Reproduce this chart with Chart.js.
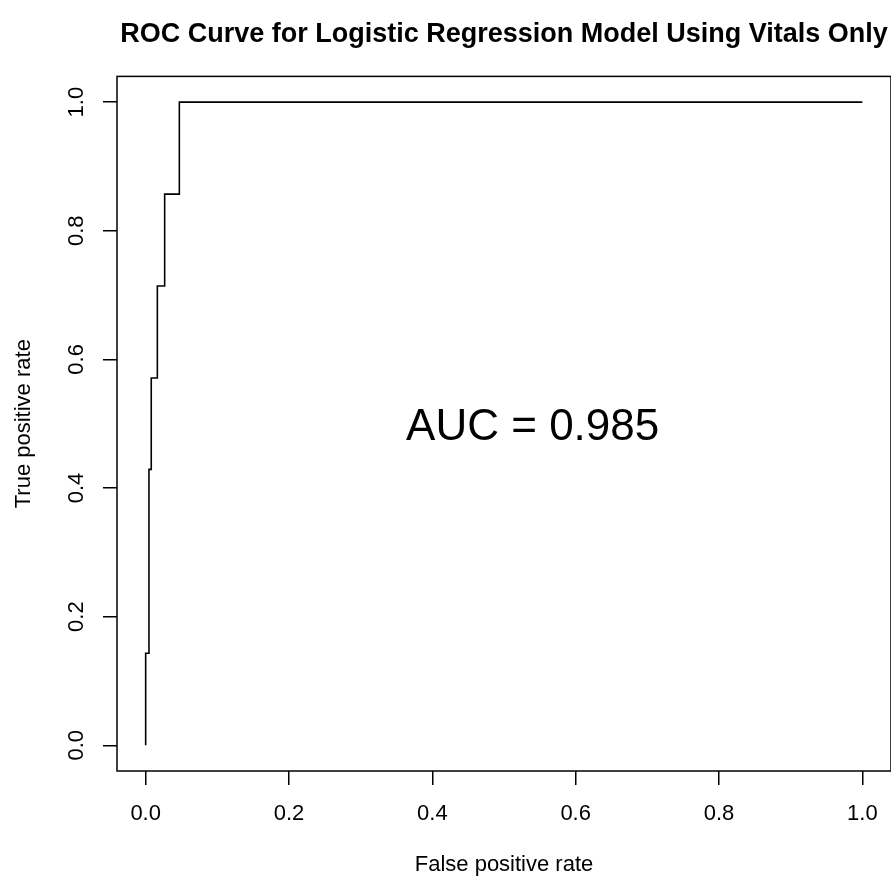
<!DOCTYPE html>
<html><head><meta charset="utf-8">
<script src="https://cdn.jsdelivr.net/npm/chart.js@4.4.1/dist/chart.umd.min.js"></script>
<style>html,body{margin:0;padding:0;background:#fff;}#wrap{width:891px;height:882px;}</style>
</head><body><div id="wrap"><canvas id="c" width="891" height="882"></canvas></div>
<script>
const chartTitle = "ROC Curve for Logistic Regression Model Using Vitals Only";
const xTitle = "False positive rate";
const yTitle = "True positive rate";
const aucLabel = "AUC = 0.985";
const aucPos = [0.54, 0.494];
// ROC vertices (false positive rate, true positive rate)
const fpr = [0, 0, 0.0046, 0.0078, 0.0163, 0.0265, 0.047, 1];
const tpr = [0, 0.143, 0.429, 0.571, 0.714, 0.857, 1, 1];
const tickValues = [0, 0.2, 0.4, 0.6, 0.8, 1.0];
const tickLabels = ["0.0", "0.2", "0.4", "0.6", "0.8", "1.0"];

const FONT = "'Liberation Sans', Arial, Helvetica, sans-serif";

const boxPlugin = {
  id: 'box',
  afterDraw(chart) {
    const {ctx, chartArea: a, scales} = chart;
    ctx.save();
    ctx.strokeStyle = '#000';
    ctx.lineWidth = 1.5;
    ctx.strokeRect(a.left, a.top, a.right - a.left, a.bottom - a.top);
    ctx.fillStyle = '#000';
    ctx.font = "44px " + FONT;
    ctx.textAlign = 'center';
    ctx.textBaseline = 'middle';
    ctx.fillText(aucLabel, scales.x.getPixelForValue(aucPos[0]), scales.y.getPixelForValue(aucPos[1]));
    ctx.restore();
  }
};

const points = fpr.map((v, i) => ({x: v, y: tpr[i]}));

new Chart(document.getElementById('c'), {
  type: 'scatter',
  data: { datasets: [{
    data: points, showLine: true, stepped: 'before',
    borderColor: '#000', borderWidth: 1.6, pointRadius: 0, fill: false
  }]},
  options: {
    responsive: false, animation: false, devicePixelRatio: 1,
    layout: { padding: { top: 0, left: 0, right: 0, bottom: 0 } },
    plugins: {
      legend: { display: false }, tooltip: { enabled: false },
      title: { display: true, text: chartTitle, fullSize: false, color: '#000',
        font: { family: FONT, size: 27, weight: 'bold' }, padding: { top: 18, bottom: 26 } }
    },
    scales: {
      x: {
        type: 'linear', min: -0.04, max: 1.04,
        afterBuildTicks: (ax) => { ax.ticks = tickValues.map(v => ({value: v})); },
        afterFit: (ax) => { ax.height = 111; ax.paddingLeft = 0; ax.paddingRight = 0; },
        grid: { drawOnChartArea: false, drawTicks: true, tickLength: 14, color: '#000', lineWidth: 1.5 },
        border: { display: false },
        ticks: { color: '#000', font: { family: FONT, size: 22 }, padding: 16, maxRotation: 0, autoSkip: false,
          callback: (v) => tickLabels[tickValues.indexOf(v)] ?? '' },
        title: { display: true, text: xTitle, color: '#000', font: { family: FONT, size: 22 }, padding: { top: 0, bottom: 4 } }
      },
      y: {
        type: 'linear', min: -0.04, max: 1.04,
        afterBuildTicks: (ax) => { ax.ticks = tickValues.map(v => ({value: v})); },
        afterFit: (ax) => { ax.width = 117; ax.paddingTop = 0; ax.paddingBottom = 0; },
        grid: { drawOnChartArea: false, drawTicks: true, tickLength: 14, color: '#000', lineWidth: 1.5 },
        border: { display: false },
        ticks: { color: '#000', font: { family: FONT, size: 22 }, padding: 11, minRotation: 90, maxRotation: 90,
          crossAlign: 'center', autoSkip: false,
          callback: (v) => tickLabels[tickValues.indexOf(v)] ?? '' },
        title: { display: true, text: yTitle, color: '#000', font: { family: FONT, size: 22 }, padding: { top: 11, bottom: 0 } }
      }
    }
  },
  plugins: [boxPlugin]
});
</script></body></html>
